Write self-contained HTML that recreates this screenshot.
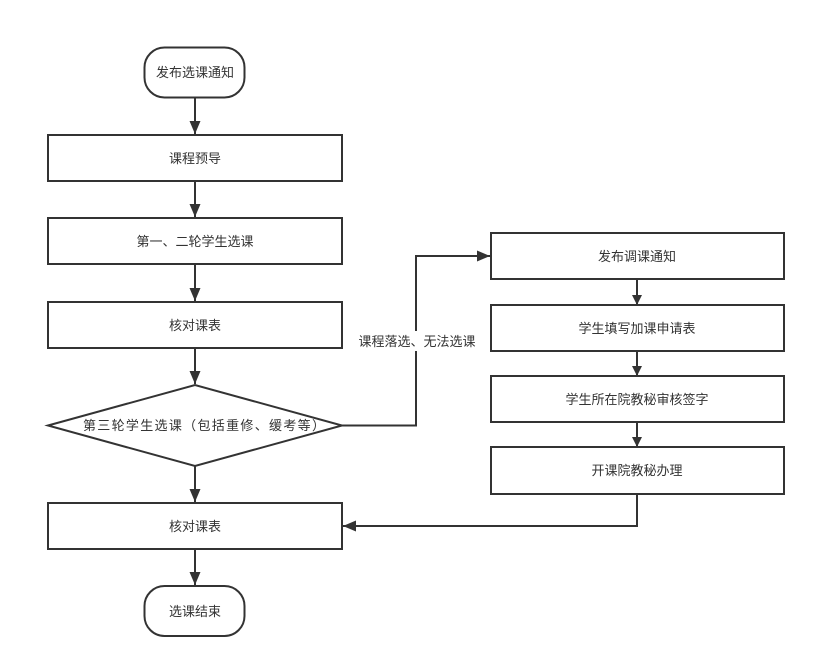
<!DOCTYPE html>
<html><head><meta charset="utf-8"><style>
html,body{margin:0;padding:0;background:#fff;}
svg{display:block;}
text{font-family:"Liberation Sans","Noto Sans CJK SC",sans-serif;font-size:13px;fill:#333;}
</style></head><body>
<svg width="816" height="668" viewBox="0 0 816 668" xmlns="http://www.w3.org/2000/svg">
<defs>
<marker id="a" markerWidth="10" markerHeight="10" refX="9" refY="5" orient="auto" markerUnits="userSpaceOnUse">
<path d="M0,0 L10,5 L0,10 Z" fill="#333"/></marker>
<marker id="b" markerWidth="14" markerHeight="14" refX="13" refY="7" orient="auto" markerUnits="userSpaceOnUse">
<path d="M0,1.5 L13,7 L0,12.5 Z" fill="#333"/></marker>
</defs>
<g fill="#fff" stroke="#333" stroke-width="2">
<rect x="144.5" y="47.5" width="100" height="50" rx="20"/>
<rect x="48" y="135" width="294" height="46"/>
<rect x="48" y="218" width="294" height="46"/>
<rect x="48" y="302" width="294" height="46"/>
<polygon points="48,425.5 195,385 342,425.5 195,466"/>
<rect x="48" y="503" width="294" height="46"/>
<rect x="144.5" y="586" width="100" height="50" rx="20"/>
<rect x="491" y="233" width="293" height="46"/>
<rect x="491" y="305" width="293" height="46"/>
<rect x="491" y="376" width="293" height="46"/>
<rect x="491" y="447" width="293" height="47"/>
</g>
<g stroke="#333" stroke-width="2" fill="none">
<line x1="195" y1="98" x2="195" y2="134" marker-end="url(#b)"/>
<line x1="195" y1="181" x2="195" y2="217" marker-end="url(#b)"/>
<line x1="195" y1="264" x2="195" y2="301" marker-end="url(#b)"/>
<line x1="195" y1="348" x2="195" y2="384" marker-end="url(#b)"/>
<line x1="195" y1="466" x2="195" y2="502" marker-end="url(#b)"/>
<line x1="195" y1="549" x2="195" y2="585" marker-end="url(#b)"/>
<line x1="637" y1="279" x2="637" y2="304" marker-end="url(#a)"/>
<line x1="637" y1="351" x2="637" y2="375" marker-end="url(#a)"/>
<line x1="637" y1="422" x2="637" y2="446" marker-end="url(#a)"/>
<polyline points="342,425.5 416,425.5 416,256 490,256" marker-end="url(#b)"/>
<polyline points="637,494 637,526 343,526" marker-end="url(#b)"/>
</g>
<rect x="358" y="331" width="118" height="20" fill="#fff"/>
<g text-anchor="middle">
<text x="195" y="77">发布选课通知</text>
<text x="195" y="163">课程预导</text>
<text x="195" y="246">第一、二轮学生选课</text>
<text x="195" y="330">核对课表</text>
<text x="83" y="430" text-anchor="start" textLength="242" lengthAdjust="spacing">第三轮学生选课（包括重修、缓考等）</text>
<text x="195" y="531">核对课表</text>
<text x="195" y="616">选课结束</text>
<text x="417" y="346">课程落选、无法选课</text>
<text x="637" y="261">发布调课通知</text>
<text x="637" y="333">学生填写加课申请表</text>
<text x="637" y="404">学生所在院教秘审核签字</text>
<text x="637" y="475">开课院教秘办理</text>
</g>
</svg>
</body></html>
